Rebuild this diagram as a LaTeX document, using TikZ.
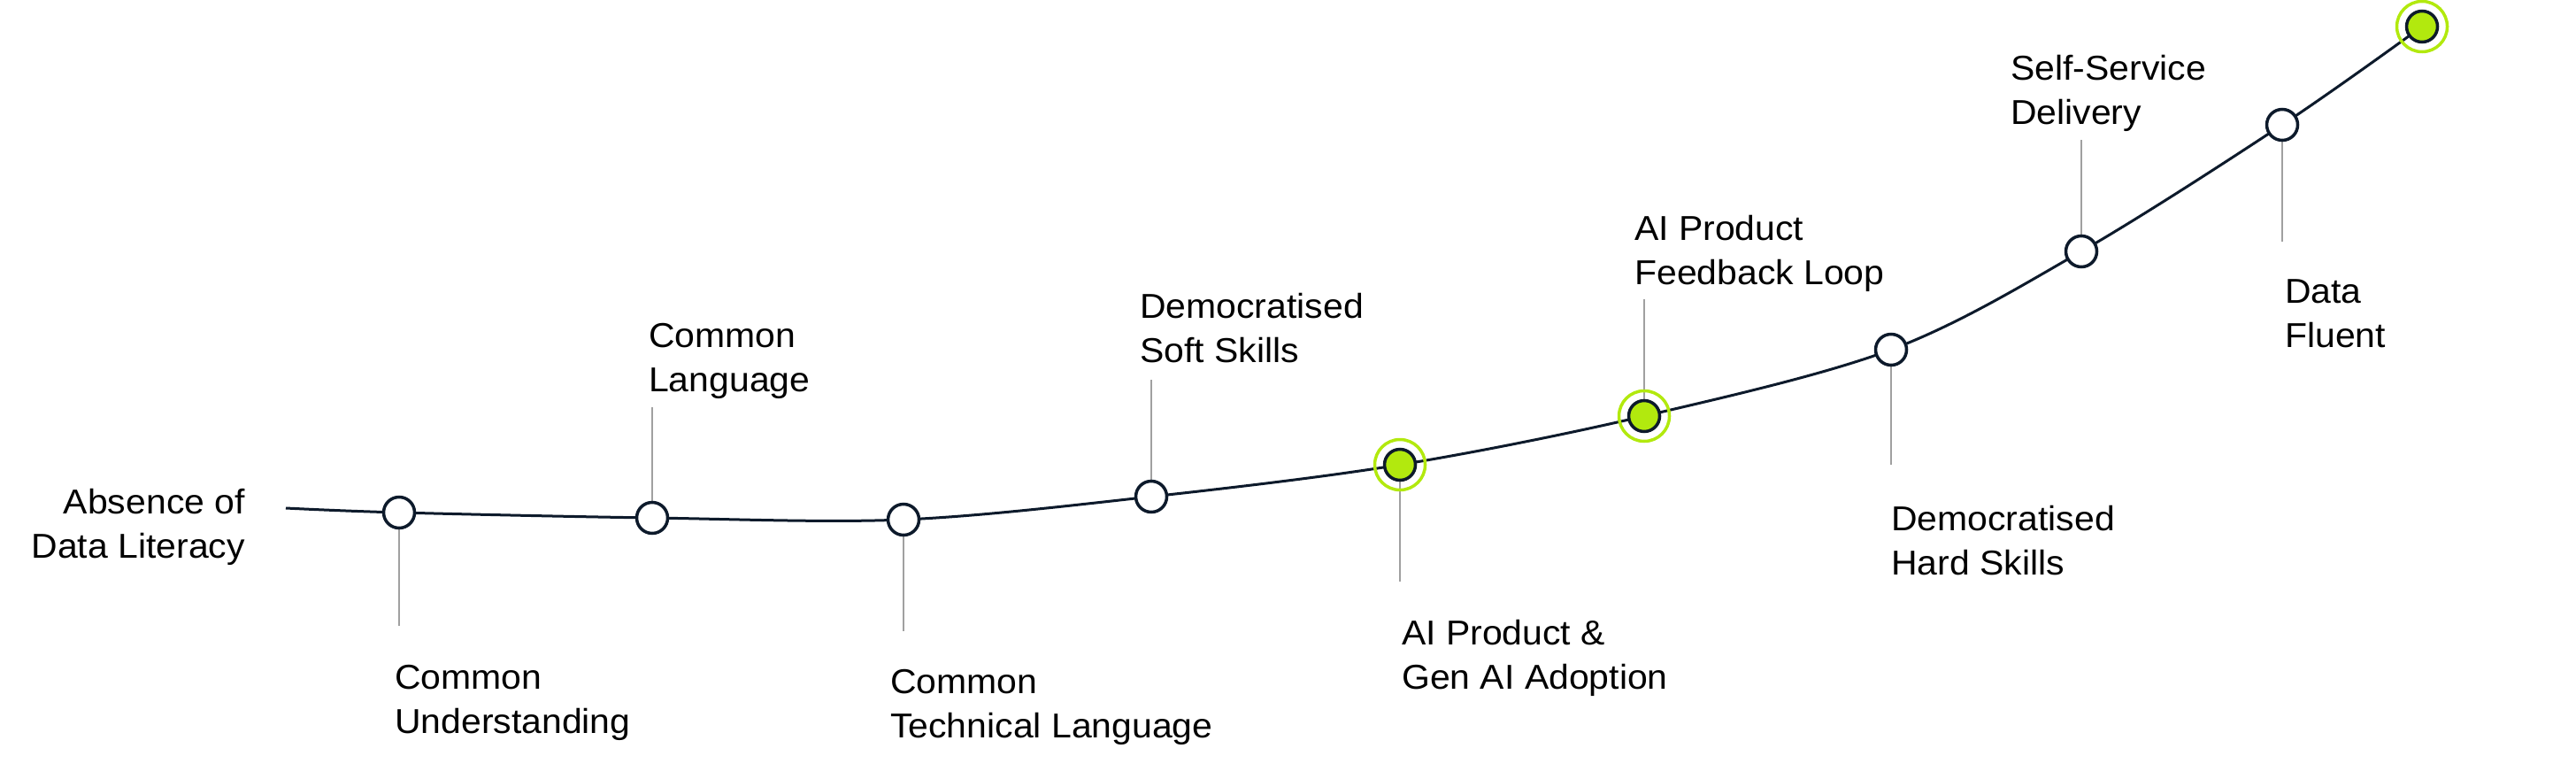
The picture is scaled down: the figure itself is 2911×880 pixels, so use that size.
\documentclass[tikz,border=0pt]{standalone}
\usepackage{fontspec}
\setmainfont[FakeStretch=1.05]{Liberation Sans}
\definecolor{navy}{HTML}{0D1A2B}
\definecolor{lime}{HTML}{B2E90E}
\definecolor{stemgray}{HTML}{A0A0A0}
\begin{document}
\begin{tikzpicture}[x=1pt,y=-1pt,
  milestone/.style={circle, draw=navy, fill=white, line width=3.5pt, minimum size=35pt, inner sep=0pt},
  reached/.style={milestone, fill=lime},
  halo/.style={circle, draw=lime, line width=3.5pt, minimum size=57pt, inner sep=0pt},
  curve/.style={draw=navy, line width=3pt},
  stemline/.style={draw=stemgray, line width=2.4pt},
  lbl/.style={font=\fontsize{39}{50}\selectfont, text=black, inner sep=0pt, align=left, anchor=north west}]
\useasboundingbox (0,0) rectangle (2911,880);
\coordinate (s) at (323,574);
\coordinate (c1) at (451,579);
\coordinate (c2) at (737,585);
\coordinate (c3) at (1021,587);
\coordinate (c4) at (1301,561);
\coordinate (c5) at (1582,525);
\coordinate (c6) at (1858,470);
\coordinate (c7) at (2137,395);
\coordinate (c8) at (2352,284);
\coordinate (c9) at (2579,141);
\coordinate (c10) at (2737,30);
% stem ends
\coordinate (e1) at (451,707);
\coordinate (e2) at (737,460);
\coordinate (e3) at (1021,713);
\coordinate (e4) at (1301,429);
\coordinate (e5) at (1582,657);
\coordinate (e6) at (1858,338);
\coordinate (e7) at (2137,525);
\coordinate (e8) at (2352,158);
\coordinate (e9) at (2579,273);
% curve
\draw[curve] plot[smooth, tension=0.55] coordinates {(s) (c1) (c2) (c3) (c4) (c5) (c6) (c7) (c8) (c9) (c10)};
% stems
\foreach \i in {1,...,9} {\draw[stemline] (c\i) -- (e\i);}
% halos
\node[halo] (h5) at (c5) {};
\node[halo] (h6) at (c6) {};
\node[halo] (h10) at (c10) {};
% milestones
\node[milestone] (m1) at (c1) {};
\node[milestone] (m2) at (c2) {};
\node[milestone] (m3) at (c3) {};
\node[milestone] (m4) at (c4) {};
\node[reached] (m5) at (c5) {};
\node[reached] (m6) at (c6) {};
\node[milestone] (m7) at (c7) {};
\node[milestone] (m8) at (c8) {};
\node[milestone] (m9) at (c9) {};
\node[reached] (m10) at (c10) {};
% labels
\node[lbl, align=right, anchor=north east] (t0) at (277,552) {Absence of\\Data Literacy};
\node[lbl] (t1) at (446,751) {Common\\Understanding};
\node[lbl] (t2) at (733,365) {Common\\Language};
\node[lbl] (t3) at (1006,756) {Common\\Technical Language};
\node[lbl] (t4) at (1288,331) {Democratised\\Soft Skills};
\node[lbl] (t5) at (1584,700) {AI Product \&\\Gen AI Adoption};
\node[lbl] (t6) at (1847,243) {AI Product\\Feedback Loop};
\node[lbl] (t7) at (2137,571) {Democratised\\Hard Skills};
\node[lbl] (t8) at (2272,62) {Self-Service\\Delivery};
\node[lbl] (t9) at (2582,315) {Data\\Fluent};
\end{tikzpicture}
\end{document}
